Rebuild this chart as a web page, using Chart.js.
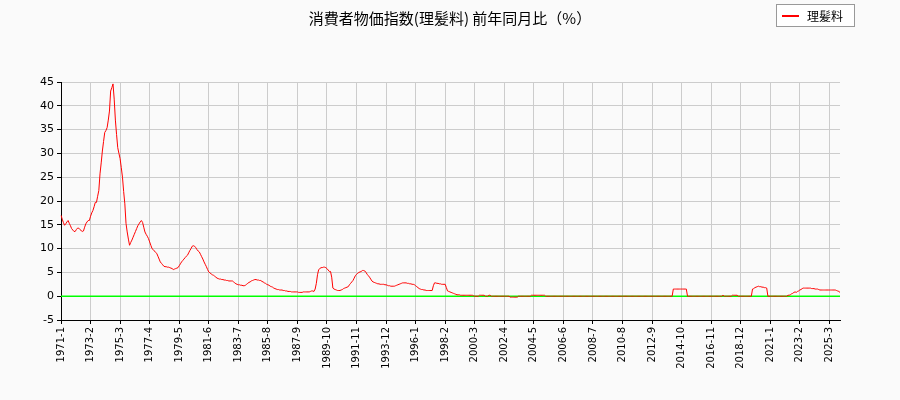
<!DOCTYPE html>
<html><head><meta charset="utf-8">
<script src="https://cdn.jsdelivr.net/npm/chart.js@4"></script>
<style>html,body{margin:0;background:#fafafa}#w{width:900px;height:400px}</style>
</head><body><div id="w"><canvas id="c"></canvas></div>
<script>
const startYear = 1971, endYear = 2025;
const seriesName = '理髪料';
const yTicks = [-5,0,5,10,15,20,25,30,35,40,45];
const v1971_1980 = [
17.0,16.2,15.5,14.9,15.2,15.6,15.9,15.3,14.8,14.2,13.9,13.6,
13.6,14.0,14.3,14.3,14.0,13.8,13.6,13.7,14.5,15.2,15.6,15.9,
15.9,16.8,17.5,18.0,18.8,19.7,19.7,21.0,22.2,25.7,28.0,30.5,
32.5,34.4,34.8,35.4,37.0,38.9,43.1,43.8,44.6,41.4,37.0,34.0,
31.2,30.0,28.9,27.0,25.0,22.0,19.4,15.3,13.5,12.0,10.7,11.3,
11.8,12.4,13.0,13.6,14.2,14.8,15.2,15.6,15.9,15.5,14.5,13.5,
13.0,12.6,12.1,11.4,10.7,10.0,9.8,9.5,9.2,9.0,8.4,7.8,
7.2,6.9,6.6,6.3,6.2,6.2,6.1,6.1,6.0,5.9,5.8,5.6,
5.7,5.8,5.9,6.0,6.4,6.8,7.2,7.5,7.8,8.1,8.4,8.6,
9.1,9.6,10.0,10.5,10.6,10.5,10.2,9.8,9.5,9.3,8.8,8.3];
const v1981_1990 = [
7.8,7.2,6.7,6.2,5.6,5.1,4.9,4.7,4.5,4.4,4.2,4.0,
3.8,3.7,3.6,3.6,3.5,3.5,3.4,3.4,3.3,3.3,3.2,3.2,
3.2,3.2,3.0,2.8,2.6,2.5,2.4,2.4,2.3,2.3,2.2,2.2,
2.3,2.5,2.7,2.9,3.0,3.2,3.3,3.4,3.5,3.5,3.4,3.4,
3.3,3.3,3.1,3.0,2.8,2.7,2.5,2.4,2.3,2.1,2.0,1.9,
1.7,1.6,1.5,1.4,1.4,1.3,1.3,1.3,1.2,1.2,1.1,1.1,
1.0,1.0,1.0,0.9,0.9,0.9,0.9,0.9,0.9,0.8,0.8,0.8,
0.8,0.9,0.9,0.9,0.9,0.9,0.9,1.0,1.1,1.1,1.0,1.5,
2.7,4.5,5.6,5.8,6.0,6.0,6.1,6.1,6.0,5.8,5.5,5.2,
5.2,4.0,1.7,1.5,1.4,1.3,1.2,1.2,1.2,1.3,1.4,1.6];
const v1991_2000 = [
1.7,1.8,1.9,2.0,2.4,2.7,3.0,3.3,3.8,4.3,4.6,4.8,
5.0,5.1,5.2,5.4,5.4,5.3,5.0,4.6,4.3,4.0,3.6,3.2,
3.0,2.9,2.8,2.7,2.6,2.6,2.5,2.5,2.5,2.5,2.4,2.4,
2.3,2.2,2.2,2.1,2.1,2.1,2.1,2.2,2.3,2.4,2.5,2.6,
2.7,2.8,2.8,2.8,2.8,2.7,2.7,2.6,2.6,2.5,2.5,2.4,
2.2,2.0,1.8,1.6,1.5,1.4,1.4,1.3,1.3,1.2,1.2,1.2,
1.2,1.2,1.2,2.2,2.8,2.8,2.7,2.7,2.6,2.6,2.5,2.5,
2.5,2.5,1.8,1.1,1.0,0.9,0.8,0.7,0.6,0.5,0.4,0.3,
0.3,0.3,0.2,0.2,0.2,0.2,0.2,0.2,0.2,0.2,0.2,0.2,
0.2,0.1,0,0,0,0,0.2,0.2,0.2,0.2,0.2,0];
const v2001_2010 = [
0,0,0.2,0.2,0,0,0,0,0,0,0,0,
0,0,0,0,0,0,0,0,-0.2,-0.2,-0.2,-0.2,
-0.2,-0.2,-0.2,0,0,0,0,0,0,0,0,0,
0,0,0.2,0.2,0.2,0.2,0.2,0.2,0.2,0.2,0.2,0.2,
0.2,0.2,0,0,0,0,0,0,0,0,0,0,
0,0,0,0,0,0,0,0,0,0,0,0,
0,0,0,0,0,0,0,0,0,0,0,0,
0,0,0,0,0,0,0,0,0,0,0,0,
0,0,0,0,0,0,0,0,0,0,0,0,
0,0,0,0,0,0,0,0,0,0,0,0];
const v2011_2020 = [
0,0,0,0,0,0,0,0,0,0,0,0,
0,0,0,0,0,0,0,0,0,0,0,0,
0,0,0,0,0,0,0,0,0,0,0,0,
0,0,1.5,1.5,1.5,1.5,1.5,1.5,1.5,1.5,1.5,1.5,
1.5,1.5,0,0,0,0,0,0,0,0,0,0,
0,0,0,0,0,0,0,0,0,0,0,0,
0,0,0,0,0,0,0,0,0.2,0,0,0,
0,0,0,0,0.2,0.2,0.2,0.2,0.2,0,0,0,
0,0,0,0,0,0,0,0,0,1.5,1.6,1.8,
1.9,2.0,2.1,2.0,2.0,1.9,1.9,1.8,1.8,1.7,0,0];
const v2021_2025 = [
0,0,0,0,0,0,0,0,0,0,0,0,
0,0,0,0.2,0.2,0.3,0.5,0.6,0.8,0.9,0.8,1.0,
1.1,1.3,1.4,1.6,1.7,1.7,1.7,1.7,1.7,1.7,1.7,1.6,
1.6,1.6,1.5,1.5,1.5,1.4,1.3,1.3,1.3,1.3,1.3,1.3,
1.3,1.3,1.3,1.3,1.3,1.3,1.3,1.3,1.2,1.1,1.0,0.8];
const values = [].concat(v1971_1980,v1981_1990,v1991_2000,v2001_2010,v2011_2020,v2021_2025);
const labels = [];
for (let y=startYear; y<=endYear; y++) for (let m=1; m<=12; m++) labels.push(y+'-'+m);
const zero = labels.map(()=>0);

const overlay = {
  id:'overlay',
  afterDraw(ch){
    const c=ch.ctx; c.save();
    c.font='15px "Noto Sans CJK JP"'; c.fillStyle='#000'; c.textAlign='center'; c.textBaseline='middle';
    c.fillText('消費者物価指数(理髪料) 前年同月比（%）', 450, 18);
    c.fillStyle='#fff'; c.fillRect(776.5,4.5,78,22); c.strokeStyle='#999'; c.lineWidth=1; c.strokeRect(776.5,4.5,78,22);
    c.strokeStyle='red'; c.lineWidth=2; c.beginPath(); c.moveTo(782,16); c.lineTo(799,16); c.stroke();
    c.font='12px "Noto Sans CJK JP"'; c.fillStyle='#000'; c.textAlign='left'; c.fillText(seriesName, 807, 16);
    c.restore();
  }
};
new Chart(document.getElementById('c'), {
  type:'line',
  data:{labels, datasets:[
    {label:seriesName, data:values, borderColor:'red', borderWidth:1, pointRadius:0, tension:0, order:0},
    {label:'zero', data:zero, borderColor:'#00ff00', borderWidth:1.5, pointRadius:0, order:1}
  ]},
  options:{
    responsive:true, maintainAspectRatio:false, animation:false,
    layout:{padding:{top:82,right:60,left:0,bottom:0}},
    plugins:{legend:{display:false}, tooltip:{enabled:false}},
    scales:{
      x:{grid:{color:(ctx)=>(ctx.index%25===0?'#cccccc':'rgba(0,0,0,0)'), tickColor:(ctx)=>(ctx.index%25===0?'#000':'rgba(0,0,0,0)'), tickLength:4},
         border:{color:'#000'},
         afterFit(s){s.height=80;},
         ticks:{autoSkip:false, maxRotation:90, minRotation:90, color:'#000', font:{size:10, family:'DejaVu Sans'},
           callback(v,i){return i%25===0?labels[i]:'';}}},
      y:{min:-5,max:45, afterFit(s){s.width=61;}, afterBuildTicks(s){s.ticks=yTicks.map(v=>({value:v}));},
         grid:{color:'#cccccc', tickColor:'#000', tickLength:4}, border:{color:'#000'},
         ticks:{color:'#000', font:{size:11, family:'DejaVu Sans'}}}
    }
  },
  plugins:[overlay]
});
</script></body></html>
